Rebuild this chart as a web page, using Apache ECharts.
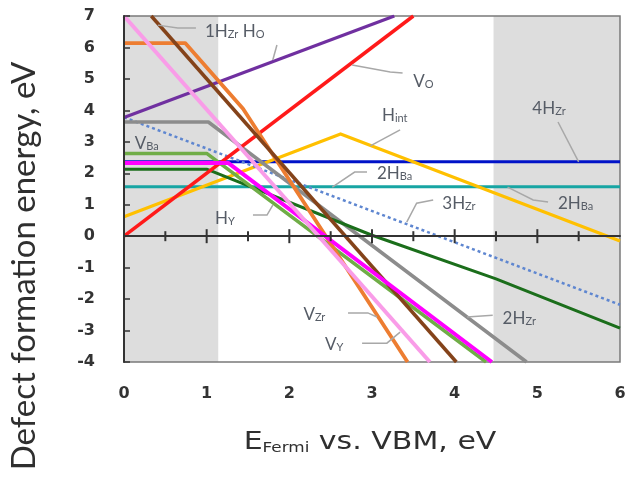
<!DOCTYPE html>
<html>
<head>
<meta charset="utf-8">
<script src="https://cdn.jsdelivr.net/npm/echarts@6/dist/echarts.min.js"></script>
<style>
  html, body { margin: 0; padding: 0; background: #ffffff; }
  #chart { width: 631px; height: 489px; }
</style>
</head>
<body>
<div id="chart"></div>
<script>
// Defect formation energies vs Fermi level: vertices [E_Fermi (eV), energy (eV)]
const V_O      = [[0, 0], [3.5, 7]];
const H_O      = [[0, 3.77], [3.27, 7]];
const H1_ZR    = [[0.33, 7], [4.02, -4]];
const V_ZR     = [[0, 6.14], [0.74, 6.14], [1.44, 4.05], [3.43, -4]];
const V_Y      = [[0, 7], [3.7, -4]];
const MAGENTA  = [[0, 2.33], [1.26, 2.33], [4.45, -4]];
const GREEN_LT = [[0, 2.63], [1.0, 2.63], [4.38, -4]];
const GREEN_DK = [[0, 2.13], [1.0, 2.13], [3.0, 0.03], [4.5, -1.36], [6, -2.92]];
const H2_ZR    = [[0, 3.63], [1.02, 3.63], [4.87, -4]];
const H3_ZR    = [[0, 3.78], [6, -2.18]];
const H4_ZR    = [[0, 2.37], [6, 2.37]];
const H2_BA    = [[0, 1.57], [6, 1.57]];
const H_INT    = [[0, 0.62], [2.62, 3.25], [6, -0.15]];

// Shaded Fermi-level ranges outside the gap
const SHADED = [[0, 1.14], [4.47, 6]];

// Axis ranges and the tick marks on the zero line
const X_RANGE = [0, 6];
const Y_RANGE = [-4, 7];
const ZERO_LINE_TICKS = [0.5, 1, 1.5, 2, 2.5, 3, 3.5, 4, 4.5, 5, 5.5];

// Drawing order, colours and widths of each curve
const CURVES = [
  { data: H2_BA,    color: '#17A5A3', width: 3 },
  { data: H4_ZR,    color: '#0012C8', width: 3 },
  { data: H_INT,    color: '#FFC000', width: 3.2 },
  { data: H3_ZR,    color: '#5E86D0', width: 2.5, type: [3, 3] },
  { data: H2_ZR,    color: '#8C8C8C', width: 3.5 },
  { data: GREEN_DK, color: '#1B6E1B', width: 3 },
  { data: GREEN_LT, color: '#70AD47', width: 3.5 },
  { data: V_O,      color: '#FF1A1A', width: 3.5 },
  { data: H_O,      color: '#7030A0', width: 3.2 },
  { data: V_ZR,     color: '#ED7D31', width: 3.8 },
  { data: H1_ZR,    color: '#84431A', width: 3.5 },
  { data: MAGENTA,  color: '#FF00FF', width: 4 },
  { data: V_Y,      color: '#F99CE8', width: 4 }
];

// Annotations: rich text and anchor [x, y] in data units (left edge, vertical middle)
const LABELS = [
  { text: '{m|1H}{s|Zr}{m| H}{s|O}', at: [0.98, 6.55] },
  { text: '{m|V}{s|O}',              at: [3.50, 4.97] },
  { text: '{m|H}{s|int}',            at: [3.12, 3.88] },
  { text: '{m|4H}{s|Zr}',            at: [4.94, 4.11] },
  { text: '{m|2H}{s|Ba}',            at: [3.06, 2.04] },
  { text: '{m|2H}{s|Ba}',            at: [5.25, 1.09] },
  { text: '{m|3H}{s|Zr}',            at: [3.85, 1.09] },
  { text: '{m|V}{s|Ba}',             at: [0.13, 3.00] },
  { text: '{m|H}{s|Y}',              at: [1.10, 0.61] },
  { text: '{m|V}{s|Zr}',             at: [2.17, -2.44] },
  { text: '{m|V}{s|Y}',              at: [2.43, -3.40] },
  { text: '{m|2H}{s|Zr}',            at: [4.58, -2.57] }
];

// Leader lines from curves to their labels, in data units
const LEADERS = [
  [[0.41, 6.71], [0.65, 6.62], [0.87, 6.62]],
  [[1.80, 5.60], [1.85, 6.08]],
  [[2.76, 5.44], [3.22, 5.22], [3.37, 5.19]],
  [[2.98, 2.87], [3.34, 3.38]],
  [[5.25, 3.63], [5.50, 2.36]],
  [[2.52, 1.56], [2.79, 2.04], [2.94, 2.04]],
  [[4.64, 1.56], [4.95, 1.15], [5.13, 1.09]],
  [[3.42, 0.45], [3.54, 1.05], [3.74, 1.15]],
  [[1.80, 0.99], [1.73, 0.67], [1.56, 0.67]],
  [[2.71, -2.44], [2.95, -2.44], [3.06, -2.57]],
  [[2.88, -3.40], [3.18, -3.40], [3.34, -3.05]],
  [[4.15, -2.57], [4.46, -2.51]]
];

const AXIS_DARK = '#333333';
const TICK_FONT = 'DejaVu Sans';
const TEXT_FONT = 'Lato';

const series = [{
  type: 'line', data: [], z: 1, silent: true,
  markArea: {
    silent: true,
    itemStyle: { color: '#DDDDDD' },
    data: SHADED.map(r => [{ xAxis: r[0] }, { xAxis: r[1] }])
  }
}].concat(CURVES.map((c, i) => ({
  type: 'line',
  data: c.data,
  z: 3 + i,
  symbol: 'none',
  silent: true,
  clip: true,
  lineStyle: { color: c.color, width: c.width, type: c.type || 'solid', cap: 'butt', join: 'round' }
})));

const option = {
  animation: false,
  backgroundColor: '#ffffff',
  grid: { left: 124, right: 11, top: 16, bottom: 127, show: true, z: 2, borderColor: '#7a7a7a', borderWidth: 1.5, backgroundColor: 'transparent' },
  xAxis: [
    {
      type: 'value', min: X_RANGE[0], max: X_RANGE[1], interval: 1,
      position: 'bottom', z: 30,
      axisLine: { show: false, onZero: false },
      axisTick: { show: false },
      splitLine: { show: false },
      axisLabel: { margin: 24, color: AXIS_DARK, fontFamily: TICK_FONT, fontWeight: 'bold', fontSize: 16 }
    },
    {
      // horizontal line through zero energy
      type: 'value', min: X_RANGE[0], max: X_RANGE[1], interval: 1,
      position: 'bottom', z: 30,
      axisLine: { show: true, onZero: true, lineStyle: { color: AXIS_DARK, width: 2 } },
      axisTick: { show: false },
      axisLabel: { show: false },
      splitLine: { show: false }
    }
  ],
  yAxis: {
    type: 'value', min: Y_RANGE[0], max: Y_RANGE[1], interval: 1, z: 30,
    axisLine: { show: true, onZero: false, lineStyle: { color: AXIS_DARK, width: 2 } },
    axisTick: { show: true, inside: true, length: 6, lineStyle: { color: AXIS_DARK, width: 1.5 } },
    splitLine: { show: false },
    axisLabel: { margin: 29, color: AXIS_DARK, fontFamily: TICK_FONT, fontWeight: 'bold', fontSize: 16 }
  },
  series: series
};

const chart = echarts.init(document.getElementById('chart'), null, { renderer: 'canvas' });
chart.setOption(option);

const toPx = (p) => chart.convertToPixel({ xAxisIndex: 0, yAxisIndex: 0 }, p);

const labelRich = {
  m: { fontFamily: TEXT_FONT, fontSize: 17, fill: '#565c66', verticalAlign: 'bottom', lineHeight: 20 },
  s: { fontFamily: TEXT_FONT, fontSize: 11, fill: '#565c66', verticalAlign: 'bottom', lineHeight: 8 }
};

const graphics = [];

// Tick marks crossing the zero line: longer at whole eV, shorter at half eV
ZERO_LINE_TICKS.forEach(v => {
  const p = toPx([v, 0]);
  const half = Number.isInteger(v) ? 7 : 5;
  graphics.push({
    type: 'line', z: 40, silent: true,
    shape: { x1: p[0], y1: p[1] - half, x2: p[0], y2: p[1] + half },
    style: { stroke: AXIS_DARK, lineWidth: 2 }
  });
});

LEADERS.forEach(pts => {
  graphics.push({
    type: 'polyline', z: 50, silent: true,
    shape: { points: pts.map(toPx) },
    style: { stroke: '#a8a8a8', lineWidth: 1.5, fill: null }
  });
});
LABELS.forEach(l => {
  const p = toPx(l.at);
  graphics.push({
    type: 'text', z: 60, silent: true,
    x: p[0], y: p[1],
    style: { text: l.text, rich: labelRich, align: 'left', verticalAlign: 'middle' }
  });
});

// Axis titles
const rect = { left: toPx([X_RANGE[0], 0])[0], right: toPx([X_RANGE[1], 0])[0] };
graphics.push({
  type: 'text', z: 60, silent: true,
  x: (rect.left + rect.right) / 2 - 2, y: 440, scaleX: 1.2,
  style: {
    text: '{e|E}{f|Fermi}{e| vs. VBM, eV}',
    align: 'center', verticalAlign: 'middle',
    rich: {
      e: { fontFamily: TICK_FONT, fontSize: 25, fill: '#2f2f2f', verticalAlign: 'bottom', lineHeight: 30 },
      f: { fontFamily: TICK_FONT, fontSize: 14, fill: '#2f2f2f', verticalAlign: 'bottom', lineHeight: 16 }
    }
  }
});
graphics.push({
  type: 'text', z: 60, silent: true,
  x: 24, y: 266, rotation: Math.PI / 2,
  style: {
    text: 'Defect formation energy, eV',
    fontFamily: TEXT_FONT, fontSize: 33, fill: '#2f2f2f',
    align: 'center', verticalAlign: 'middle'
  }
});

chart.setOption({ graphic: graphics });
</script>
</body>
</html>
